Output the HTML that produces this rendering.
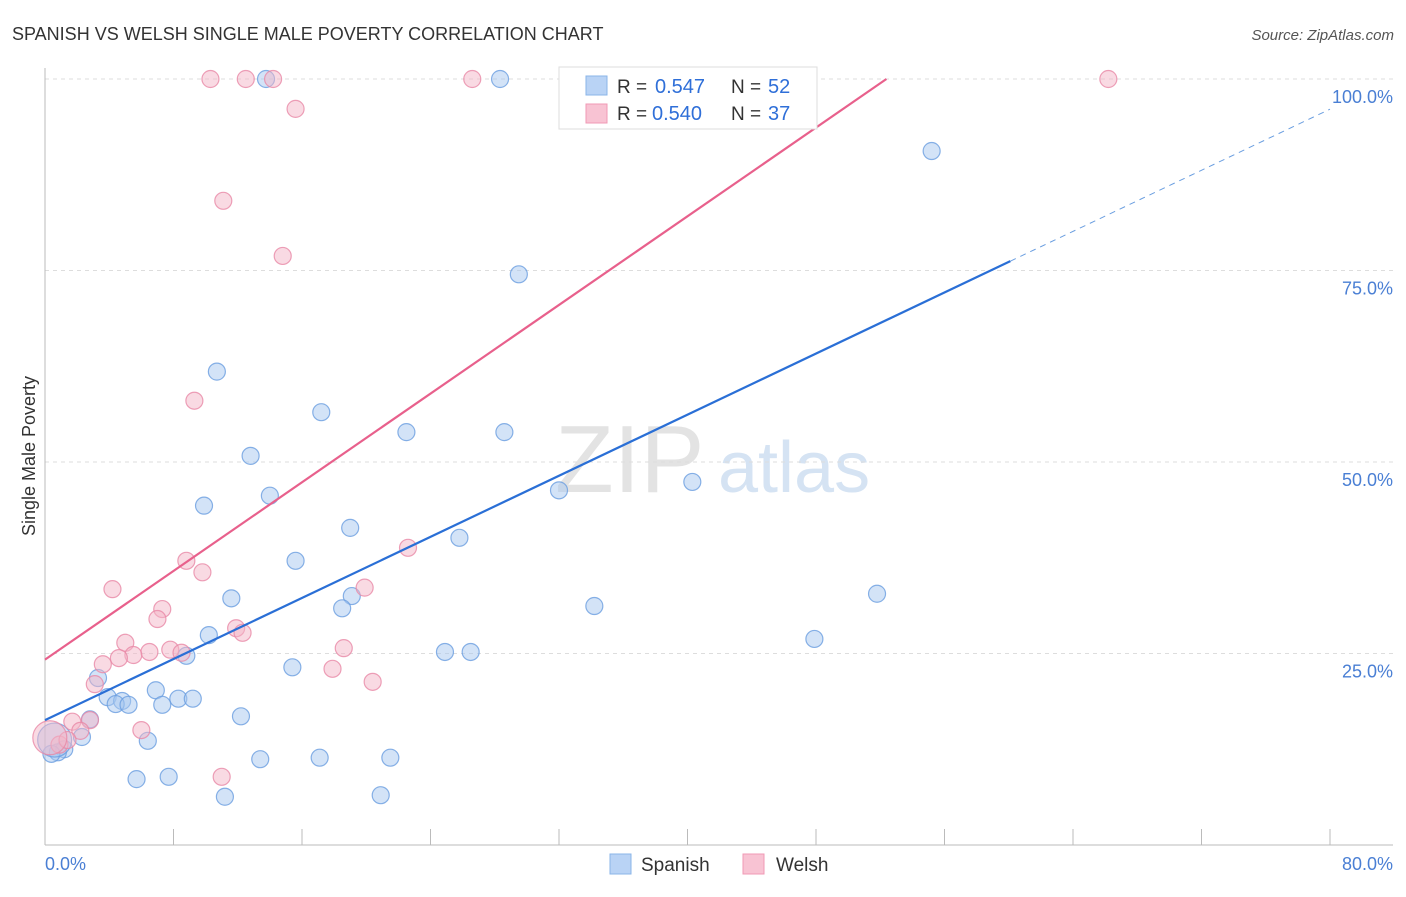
<!DOCTYPE html>
<html><head><meta charset="utf-8"><style>
body{margin:0;background:#fff;font-family:"Liberation Sans",sans-serif}
svg text{font-family:"Liberation Sans",sans-serif}
</style></head><body>
<svg id="c" width="1406" height="892">
<text x="12" y="40" font-size="18" fill="#333">SPANISH VS WELSH SINGLE MALE POVERTY CORRELATION CHART</text>
<text x="1394" y="40" font-size="15" fill="#555" font-style="italic" text-anchor="end">Source: ZipAtlas.com</text>
<g>
<text x="555" y="492" font-size="96" font-family="Liberation Serif,serif" fill="#e3e3e3">ZIP</text>
<text x="718" y="492" font-size="72" fill="#d5e3f3">atlas</text>
</g>
<g id="grid"></g>
<g id="axes"></g>
<g id="marks"></g>
<text x="35" y="456" font-size="18" fill="#333" transform="rotate(-90 35 456)" text-anchor="middle">Single Male Poverty</text>
<g>
<rect x="559" y="67" width="258" height="62" fill="#fff" stroke="#ddd"/>
<rect x="586" y="76" width="21" height="19" fill="#b9d3f5" stroke="#8ab4e8"/>
<rect x="586" y="104" width="21" height="19" fill="#f8c3d3" stroke="#f09ab4"/>
<text x="617" y="93" font-size="19" fill="#333">R =</text>
<text x="655" y="93" font-size="20" fill="#2f6fd8">0.547</text>
<text x="731" y="93" font-size="19" fill="#333">N =</text>
<text x="768" y="93" font-size="20" fill="#2f6fd8">52</text>
<text x="617" y="120" font-size="19" fill="#333">R =</text>
<text x="652" y="120" font-size="20" fill="#2f6fd8">0.540</text>
<text x="731" y="120" font-size="19" fill="#333">N =</text>
<text x="768" y="120" font-size="20" fill="#2f6fd8">37</text>
</g>
<g>
<rect x="610" y="854" width="21" height="20" fill="#b9d3f5" stroke="#8ab4e8"/>
<text x="641" y="871" font-size="19" fill="#333">Spanish</text>
<rect x="743" y="854" width="21" height="20" fill="#f8c3d3" stroke="#f09ab4"/>
<text x="776" y="871" font-size="19" fill="#333">Welsh</text>
</g>
</svg>
<script>
const yTicks=[25,50,75,100];
const xTickLabels=["0.0%","80.0%"];
const spanishX=[13.76,28.33,41.9,55.2,29.5,10.7,17.2,22.5,28.6,12.8,32.0,40.3,14.0,9.9,19.0,25.8,15.6,11.6,19.1,18.5,34.2,51.8,10.2,47.9,8.8,24.9,26.5,15.4,3.3,6.9,3.9,4.8,8.3,9.2,4.4,5.2,7.3,12.2,2.8,2.3,6.4,1.2,0.8,0.4,13.4,17.1,21.5,5.7,7.7,11.2,20.9,0.6];
const spanishY=[100,100,100,90.6,74.5,61.8,56.5,53.9,53.9,50.8,46.3,47.4,45.6,44.3,41.4,40.1,37.1,32.2,32.5,30.9,31.2,32.8,27.4,26.9,24.7,25.2,25.2,23.2,21.8,20.2,19.3,18.8,19.1,19.1,18.4,18.3,18.3,16.8,16.4,14.1,13.6,12.5,12.1,11.9,11.2,11.4,11.4,8.6,8.9,6.3,6.5,13.7];
const welshX=[10.3,12.5,14.2,26.6,66.2,15.6,11.1,14.8,9.3,22.6,8.8,9.8,4.2,19.9,7.3,7.0,11.9,12.3,5.0,7.8,6.5,5.5,8.5,4.6,3.6,18.6,17.9,20.4,3.1,1.7,2.8,2.2,6.0,11.0,0.9,1.4,0.3];
const welshY=[100,100,100,100,100,96.1,84.1,76.9,58.0,38.8,37.1,35.6,33.4,33.6,30.8,29.5,28.3,27.7,26.4,25.5,25.2,24.8,25.1,24.4,23.6,25.7,23.0,21.3,21.0,16.1,16.3,14.9,15.0,8.9,13.1,13.7,14.0];
const spanishFit=[16.3,0.997]; // intercept, slope
const welshFit=[24.2,1.447];
const NS="http://www.w3.org/2000/svg";
const X=v=>45+v/80*1285, Y=v=>845-v/100*766;
function mk(p,t,a){const e=document.createElementNS(NS,t);for(const k in a)e.setAttribute(k,a[k]);p.appendChild(e);return e;}
const grid=document.getElementById('grid'),axes=document.getElementById('axes'),marks=document.getElementById('marks');
yTicks.forEach(t=>{
 const l=mk(grid,'line',{x1:45,x2:1393,y1:Y(t),y2:Y(t),stroke:'#ddd','stroke-dasharray':'4,4'});
 
 
 const tx=mk(grid,'text',{x:1393,y:Y(t)+24,'font-size':18,fill:'#4a7fd4','text-anchor':'end'});
 tx.textContent=t.toFixed(1)+'%';
 
 
});
mk(axes,'line',{x1:45,x2:45,y1:68,y2:845,stroke:'#bbb'});
mk(axes,'line',{x1:45,x2:1393,y1:845,y2:845,stroke:'#bbb'});
for(let i=0;i<=10;i++){const t=mk(axes,'line',{x1:X(i*8),x2:X(i*8),y1:829,y2:845,stroke:'#bbb'});
 
 }
const xl0=mk(axes,'text',{x:45,y:870,'font-size':18,fill:'#4a7fd4'});xl0.textContent=xTickLabels[0];


const xl1=mk(axes,'text',{x:1393,y:870,'font-size':18,fill:'#4a7fd4','text-anchor':'end'});xl1.textContent=xTickLabels[1];


function pts(xs,ys,fill,stroke,name){xs.forEach((x,i)=>{
 const big=(x<0.7&&ys[i]>13&&ys[i]<14.5);
 const c=mk(marks,'circle',{cx:X(x),cy:Y(ys[i]),r:big?17:8.5,fill:fill,'fill-opacity':0.5,stroke:stroke,'stroke-opacity':0.8,'stroke-width':1.2});
 
 
});}
pts(spanishX,spanishY,'#a8c8f0','#6a9ee0','spanish-point');
pts(welshX,welshY,'#f4b6c8','#e888a6','welsh-point');
const fy=(f,x)=>f[0]+f[1]*x;
let l=mk(marks,'line',{x1:X(0),y1:Y(fy(spanishFit,0)),x2:X(60.1),y2:Y(fy(spanishFit,60.1)),stroke:'#2a6fd6','stroke-width':2.2});


l=mk(marks,'line',{x1:X(60.1),y1:Y(fy(spanishFit,60.1)),x2:X(80),y2:Y(fy(spanishFit,80)),stroke:'#6a9ee0','stroke-width':1,'stroke-dasharray':'6,5'});


const wx=(100-welshFit[0])/welshFit[1];
l=mk(marks,'line',{x1:X(0),y1:Y(fy(welshFit,0)),x2:X(wx),y2:Y(100),stroke:'#e8608c','stroke-width':2.2});


</script>
</body></html>
